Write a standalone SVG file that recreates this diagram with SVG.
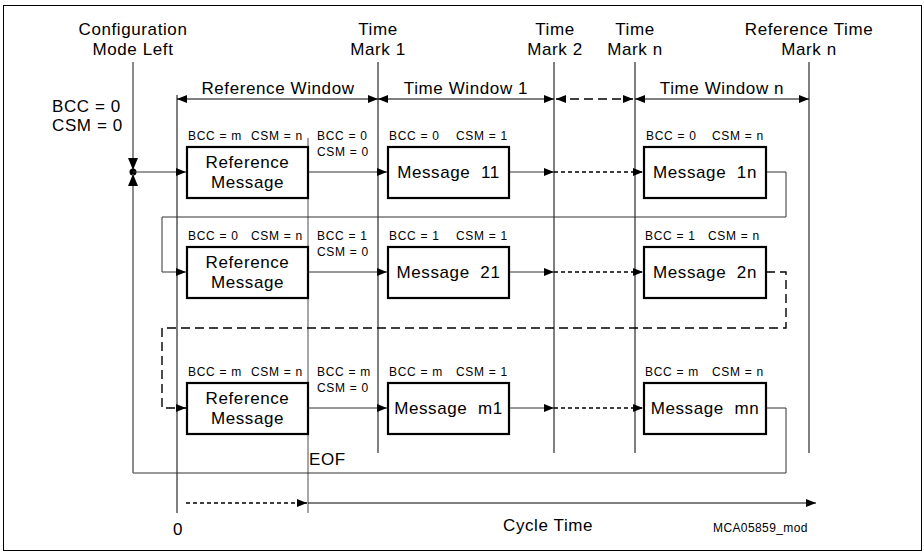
<svg xmlns="http://www.w3.org/2000/svg" width="924" height="552" viewBox="0 0 924 552">
<style>
.t{font-family:"Liberation Sans",Arial,sans-serif;font-size:17px;letter-spacing:0.6px;fill:#000;white-space:pre}
.s{font-family:"Liberation Sans",Arial,sans-serif;font-size:12px;letter-spacing:0.7px;fill:#000;white-space:pre}
.m{text-anchor:middle}
.box{fill:#fff;stroke:#000;stroke-width:2.2}
.ln{fill:none;stroke:#000;stroke-width:1}
.gr{fill:none;stroke:#808080;stroke-width:1.4}
.cn{fill:none;stroke:#333;stroke-width:1}
.d1{stroke-dasharray:4 3;stroke:#000;stroke-width:1.3}
.d2{stroke-dasharray:9 5;stroke:#000;stroke-width:1.4}
</style>
<defs>
<marker id="ah" viewBox="0 0 10 8" refX="10" refY="4" markerWidth="10" markerHeight="8" markerUnits="userSpaceOnUse" orient="auto-start-reverse"><path d="M0,0 L10,4 L0,8 z" fill="#000"/></marker>
<marker id="av" viewBox="0 0 12 10" refX="12" refY="5" markerWidth="12" markerHeight="10" markerUnits="userSpaceOnUse" orient="auto"><path d="M0,0 L12,5 L0,10 z" fill="#000"/></marker>
</defs>
<rect x="3.5" y="5.5" width="918" height="545" fill="#fff" stroke="#000" stroke-width="1"/>

<g id="headers">
<text class="t m" x="133" y="35">Configuration</text>
<text class="t m" x="133" y="55">Mode Left</text>
<text class="t m" x="378" y="35">Time</text>
<text class="t m" x="378" y="55">Mark 1</text>
<text class="t m" x="555" y="35">Time</text>
<text class="t m" x="555" y="55">Mark 2</text>
<text class="t m" x="635" y="35">Time</text>
<text class="t m" x="635" y="55">Mark n</text>
<text class="t m" x="809" y="35">Reference Time</text>
<text class="t m" x="809" y="55">Mark n</text>
<text class="t" x="52" y="112">BCC = 0</text>
<text class="t" x="52" y="131">CSM = 0</text>
<text class="t m" x="278" y="94">Reference Window</text>
<text class="t m" x="466" y="94">Time Window 1</text>
<text class="t m" x="722" y="94">Time Window n</text>
</g>

<g id="timelines">
<path class="gr" d="M133,62 V473"/>
<path class="ln" d="M177,95 V513"/>
<path class="gr" d="M308,138 V513"/>
<path class="ln" d="M378,62 V453 M554,62 V453 M635,62 V453 M809,62 V453"/>
</g>

<g id="connectors">
<path class="ln" d="M177,99 H378" marker-start="url(#ah)" marker-end="url(#ah)"/>
<path class="ln" d="M378,99 H554" marker-start="url(#ah)" marker-end="url(#ah)"/>
<path class="ln d2" d="M556,99 H633" marker-start="url(#ah)" marker-end="url(#ah)"/>
<path class="ln" d="M635,99 H809" marker-start="url(#ah)" marker-end="url(#ah)"/>
<path class="gr" d="M133,62 V170" marker-end="url(#av)"/>
<circle cx="133" cy="172" r="3.5" fill="#000"/>
<path class="cn" d="M133,172 H186" marker-end="url(#ah)"/>
<path class="cn" d="M308,172 H387" marker-end="url(#ah)"/>
<path class="cn" d="M509,172 H554" marker-end="url(#ah)"/>
<path class="cn d1" d="M554,172 H643" marker-end="url(#ah)"/>
<path class="cn" d="M766,172 H786 V217 H162 V272 H186" marker-end="url(#ah)"/>
<path class="cn" d="M308,272 H387" marker-end="url(#ah)"/>
<path class="cn" d="M509,272 H554" marker-end="url(#ah)"/>
<path class="cn d1" d="M554,272 H643" marker-end="url(#ah)"/>
<path class="cn d2" d="M766,272 H786 V328 H162 V408 H186" marker-end="url(#ah)"/>
<path class="cn" d="M308,408 H387" marker-end="url(#ah)"/>
<path class="cn" d="M509,408 H554" marker-end="url(#ah)"/>
<path class="cn d1" d="M554,408 H643" marker-end="url(#ah)"/>
<path class="cn" d="M766,408 H786 V473 H133"/>
<path class="gr" d="M133,473 V174" marker-end="url(#av)"/>
<path class="ln d1" d="M186,503 H307" marker-end="url(#ah)"/>
<path class="ln" d="M308,503 H816" marker-end="url(#ah)"/>
</g>

<g id="ref1">
<rect class="box" x="187" y="147" width="121" height="51"/>
<text class="t m" x="247.5" y="168">Reference</text>
<text class="t m" x="247.5" y="188">Message</text>
<text class="s" y="140"><tspan x="188">BCC = m</tspan><tspan x="251">CSM = n</tspan></text>
</g>
<g id="state1">
<text class="s" x="317" y="140">BCC = 0</text>
<text class="s" x="317" y="156">CSM = 0</text>
</g>
<g id="msg11">
<rect class="box" x="388" y="147" width="121" height="51"/>
<text class="t m" x="448.5" y="178">Message  11</text>
<text class="s" y="140"><tspan x="389">BCC = 0</tspan><tspan x="456">CSM = 1</tspan></text>
</g>
<g id="msg1n">
<rect class="box" x="644" y="147" width="122" height="51"/>
<text class="t m" x="705" y="178">Message  1n</text>
<text class="s" y="140"><tspan x="646">BCC = 0</tspan><tspan x="712">CSM = n</tspan></text>
</g>

<g id="ref2">
<rect class="box" x="187" y="247" width="121" height="51"/>
<text class="t m" x="247.5" y="268">Reference</text>
<text class="t m" x="247.5" y="288">Message</text>
<text class="s" y="240"><tspan x="188">BCC = 0</tspan><tspan x="251">CSM = n</tspan></text>
</g>
<g id="state2">
<text class="s" x="317" y="240">BCC = 1</text>
<text class="s" x="317" y="256">CSM = 0</text>
</g>
<g id="msg21">
<rect class="box" x="388" y="247" width="121" height="51"/>
<text class="t m" x="448.5" y="278">Message  21</text>
<text class="s" y="240"><tspan x="389">BCC = 1</tspan><tspan x="456">CSM = 1</tspan></text>
</g>
<g id="msg2n">
<rect class="box" x="644" y="247" width="122" height="51"/>
<text class="t m" x="705" y="278">Message  2n</text>
<text class="s" y="240"><tspan x="645">BCC = 1</tspan><tspan x="708">CSM = n</tspan></text>
</g>

<g id="ref3">
<rect class="box" x="187" y="383" width="121" height="51"/>
<text class="t m" x="247.5" y="404">Reference</text>
<text class="t m" x="247.5" y="424">Message</text>
<text class="s" y="376"><tspan x="188">BCC = m</tspan><tspan x="251">CSM = n</tspan></text>
</g>
<g id="state3">
<text class="s" x="317" y="376">BCC = m</text>
<text class="s" x="317" y="392">CSM = 0</text>
</g>
<g id="msgm1">
<rect class="box" x="388" y="383" width="121" height="51"/>
<text class="t m" x="448.5" y="414">Message  m1</text>
<text class="s" y="376"><tspan x="389">BCC = m</tspan><tspan x="456">CSM = 1</tspan></text>
</g>
<g id="msgmn">
<rect class="box" x="644" y="383" width="122" height="51"/>
<text class="t m" x="705" y="414">Message  mn</text>
<text class="s" y="376"><tspan x="645">BCC = m</tspan><tspan x="712">CSM = n</tspan></text>
</g>

<g id="axis">
<text class="t" x="309" y="465">EOF</text>
<text class="t m" x="178" y="535">0</text>
<text class="t" x="503" y="531">Cycle Time</text>
<text class="s" x="713" y="532" style="letter-spacing:0.4px">MCA05859_mod</text>
</g>
</svg>
